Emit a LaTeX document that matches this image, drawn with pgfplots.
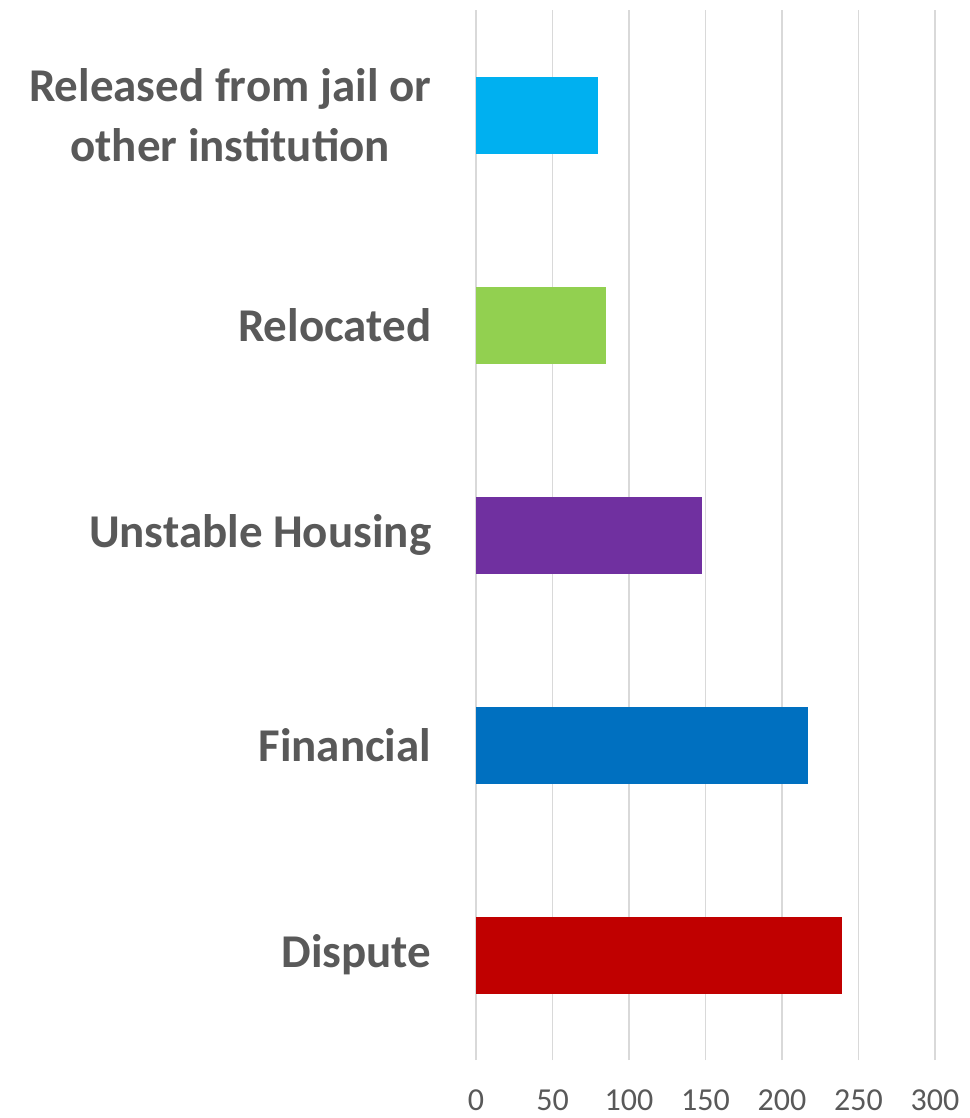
\documentclass[border=0pt]{standalone}
\usepackage{fontspec}
\setmainfont{Carlito}
\usepackage{pgfplots}
\pgfplotsset{compat=1.18}
\definecolor{txt}{HTML}{595959}
\definecolor{gridc}{HTML}{D9D9D9}
\definecolor{cRel}{HTML}{00B0F0}
\definecolor{cLoc}{HTML}{92D050}
\definecolor{cUns}{HTML}{7030A0}
\definecolor{cFin}{HTML}{0070C0}
\definecolor{cDis}{HTML}{C00000}
\begin{document}
\begin{tikzpicture}
\path[use as bounding box] (-476pt,-58pt) rectangle (493pt,1060pt);
\begin{axis}[
  at={(0,0)}, anchor=south west,
  scale only axis, width=459pt, height=1050pt,
  xbar, bar width=77pt, bar shift=0pt,
  xmin=0, xmax=300, ymin=-0.5, ymax=4.5,
  xtick={0,50,...,300},
  ytick={0,1,2,3,4},
  yticklabels={Dispute,Financial,Unstable Housing,Relocated,{Released from jail or\\other institution}},
  xmajorgrids, grid style={gridc, line width=1.6pt},
  axis line style={draw=none},
  tick style={draw=none},
  /pgf/number format/assume math mode=true,
  xticklabel style={font=\fontsize{32}{38}\selectfont, text=txt},
  yticklabel style={font=\fontsize{47}{60}\selectfont\bfseries, text=txt, align=center},
  xtick pos=bottom,
  xticklabel shift=26pt,
  yticklabel shift=37pt,
]
\addplot[fill=cDis, draw=none] coordinates {(239,0)};
\addplot[fill=cFin, draw=none] coordinates {(217,1)};
\addplot[fill=cUns, draw=none] coordinates {(148,2)};
\addplot[fill=cLoc, draw=none] coordinates {(85,3)};
\addplot[fill=cRel, draw=none] coordinates {(80,4)};
\end{axis}
\end{tikzpicture}
\end{document}
